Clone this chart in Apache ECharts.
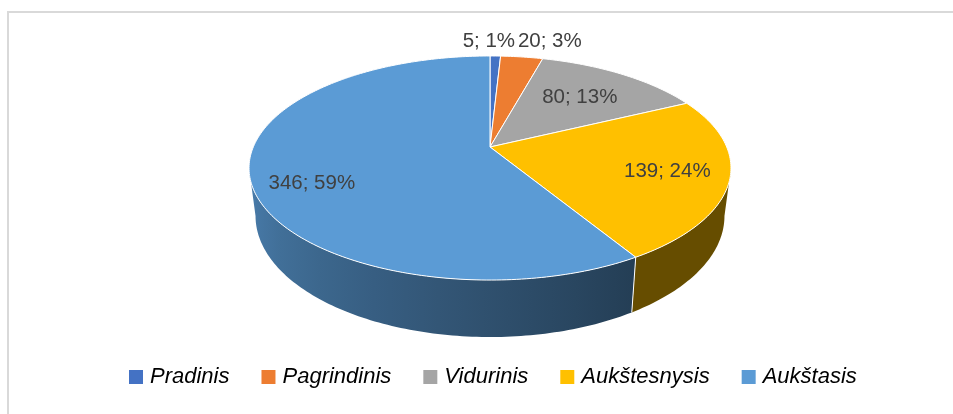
<!DOCTYPE html>
<html><head><meta charset="utf-8">
<script src="https://cdn.jsdelivr.net/npm/echarts@6/dist/echarts.min.js"></script>
<style>html,body{margin:0;padding:0;background:#fff}#c{width:953px;height:414px}</style>
</head><body><div id="c"></div>
<script>
// ---- data ----
const categories = ['Pradinis', 'Pagrindinis', 'Vidurinis', 'Aukštesnysis', 'Aukštasis'];
const values = [5, 20, 80, 139, 346];
const percents = [1, 3, 13, 24, 59];
const colors = ['#4472C4', '#ED7D31', '#A5A5A5', '#FFC000', '#5B9BD5'];

// ---- layout (perspective projection of the 3D pie) ----
const CX = 490, CY = 147, A = 236.7, B = 108.1, K = 0.1875, DEPTH = 46.3, BOTTOM_SCALE = 0.973;
const VIS0 = Math.acos(-K) * 180 / Math.PI;      // ~100.8 deg
const VIS1 = 360 - VIS0;                          // ~259.2 deg
const labelLayout = [[1.20, -1.8], [1.24, 5.3], [0.65, 0], [0.75, 0], [0.776, -8.6]];

const total = values.reduce((a, b) => a + b, 0);
const starts = [], ends = [];
let acc = 0;
values.forEach(v => { starts.push(acc / total * 360); acc += v; ends.push(acc / total * 360); });

function proj(theta, r, down) {
  const t = theta * Math.PI / 180;
  const u = r * Math.sin(t), v = -r * Math.cos(t);
  const w = 1 - K * v;
  let x = A * u / w, y = B * v / w;
  if (down) { x *= BOTTOM_SCALE; y += DEPTH / w; }
  return [CX + x, CY + y];
}
function shade(theta) {
  const t = Math.min(1, Math.max(0, (theta - 150) / 109));
  return 0.4 + 0.42 * t;
}
function scaleColor(hex, f) {
  const n = parseInt(hex.slice(1), 16);
  const r = Math.round(((n >> 16) & 255) * f), g = Math.round(((n >> 8) & 255) * f), b = Math.round((n & 255) * f);
  return 'rgb(' + r + ',' + g + ',' + b + ')';
}

function renderItem(params, api) {
  const i = params.dataIndex;
  const a0 = starts[i], a1 = ends[i];
  const children = [];
  // top face
  const pts = [[CX, CY]];
  const n = Math.max(2, Math.ceil(a1 - a0));
  for (let j = 0; j <= n; j++) pts.push(proj(a0 + (a1 - a0) * j / n, 1, false));
  children.push({ type: 'polygon', z2: 10, shape: { points: pts },
    style: { fill: colors[i], stroke: '#ffffff', lineWidth: 1 } });
  // side wall
  const s0 = Math.max(a0, VIS0), s1 = Math.min(a1, VIS1);
  if (s1 > s0) {
    const m = Math.max(2, Math.ceil(s1 - s0));
    const top = [], bot = [];
    for (let j = 0; j <= m; j++) {
      const th = s0 + (s1 - s0) * j / m;
      top.push(proj(th, 1, false));
      bot.push(proj(th, 1, true));
    }
    const poly = top.concat(bot.reverse());
    const xs = poly.map(p => p[0]);
    const xmin = Math.min.apply(null, xs), xmax = Math.max.apply(null, xs);
    const stops = [];
    for (let j = 0; j <= 8; j++) {
      const th = s0 + (s1 - s0) * j / 8;
      const x = proj(th, 1, false)[0];
      stops.push({ offset: Math.min(1, Math.max(0, (x - xmin) / (xmax - xmin))), color: scaleColor(colors[i], shade(th)) });
    }
    stops.sort((p, q) => p.offset - q.offset);
    children.push({ type: 'polygon', z2: 1, shape: { points: poly },
      style: { fill: { type: 'linear', x: xmin, y: 0, x2: xmax, y2: 0, colorStops: stops, global: true } } });
    if (a0 > VIS0 && a0 < VIS1) {
      const p = proj(a0, 1, false), q = proj(a0, 1, true);
      children.push({ type: 'line', z2: 2, shape: { x1: p[0], y1: p[1], x2: q[0], y2: q[1] },
        style: { stroke: '#ffffff', lineWidth: 1 } });
    }
  }
  // label
  const L = labelLayout[i];
  const lp = proj((a0 + a1) / 2 + L[1], L[0], false);
  children.push({ type: 'text', z2: 20, x: lp[0], y: lp[1],
    style: { text: api.value(0) + '; ' + percents[i] + '%', fill: '#404040', fontSize: 20.5,
      fontFamily: '"Liberation Sans", Arial, sans-serif', align: 'center', verticalAlign: 'middle' } });
  return { type: 'group', children: children };
}

const chart = echarts.init(document.getElementById('c'), null, { renderer: 'canvas' });
chart.setOption({
  animation: false,
  backgroundColor: '#ffffff',
  graphic: [{ type: 'rect', z: -10, shape: { x: 8, y: 12, width: 1100, height: 500 },
    style: { fill: 'none', stroke: '#d9d9d9', lineWidth: 2 } }],
  legend: {
    left: 129, top: 366, padding: 0, itemWidth: 14, itemHeight: 14, itemGap: 32, icon: 'rect', selectedMode: false,
    data: categories,
    textStyle: { fontSize: 22, fontStyle: 'italic', color: '#000000', fontFamily: '"Liberation Sans", Arial, sans-serif', padding: [0, 0, 0, 2] }
  },
  series: [
    { type: 'custom', coordinateSystem: 'none', renderItem: renderItem, silent: true,
      data: values.map((v, i) => ({ name: categories[i], value: [v] })) },
    { type: 'pie', radius: [0, 0], center: [-100, -100], silent: true, label: { show: false }, labelLine: { show: false },
      data: values.map((v, i) => ({ name: categories[i], value: v, itemStyle: { color: colors[i] } })) }
  ]
});
</script>
</body></html>
